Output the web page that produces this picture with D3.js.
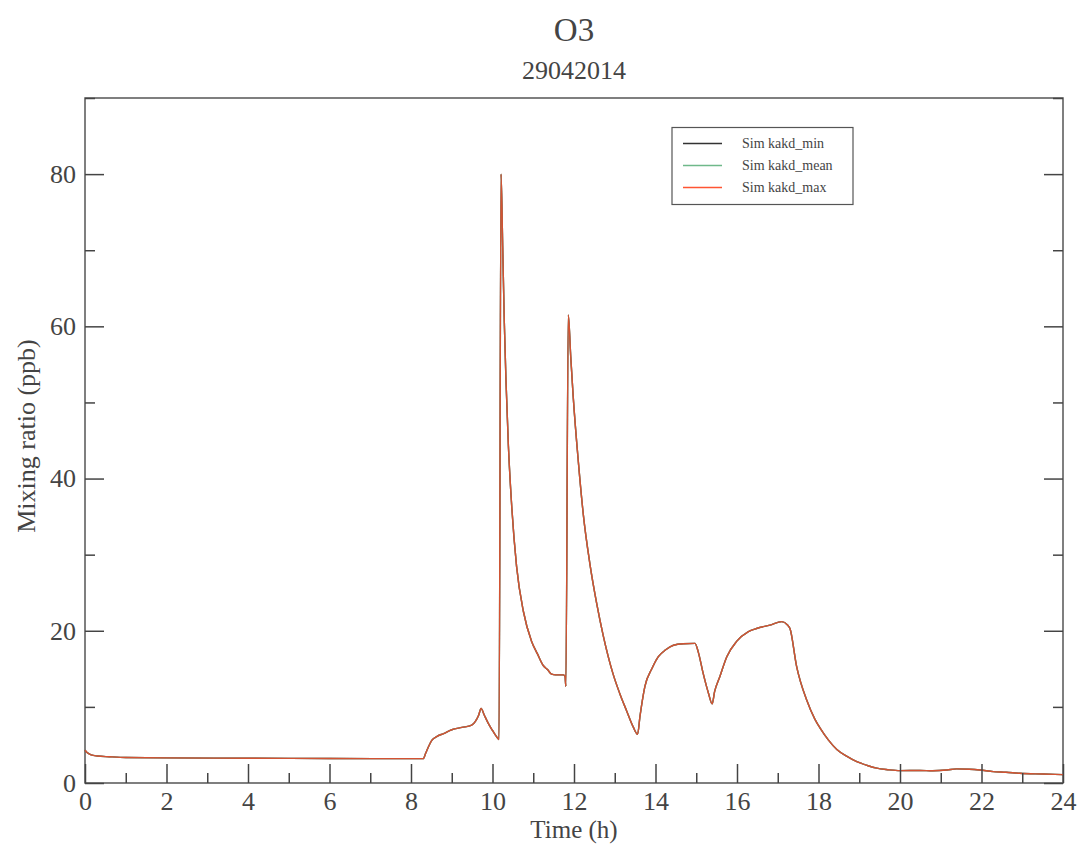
<!DOCTYPE html>
<html>
<head>
<meta charset="utf-8">
<script src="https://cdn.jsdelivr.net/npm/d3@7"></script>
<style>
body{margin:0;background:#fff;}
text{font-family:"Liberation Serif","DejaVu Serif",serif;}
</style>
</head>
<body>
<svg id="chart" width="1081" height="845"></svg>
<script>
const timeH = [0,0.05,0.15,0.3,0.6,1,2,4,6,8,8.3,8.36,8.44,8.51,8.63,8.8,9.0,9.25,9.49,9.58,9.66,9.72,9.8,9.9,10.0,10.14,10.16,10.21,10.25,10.29,10.33,10.39,10.47,10.59,10.76,10.96,11.1,11.25,11.35,11.45,11.55,11.74,11.78,11.80,11.86,11.92,11.98,12.11,12.23,12.39,12.56,12.72,12.96,13.12,13.29,13.45,13.56,13.62,13.74,13.91,14.07,14.25,14.44,14.68,14.97,15.05,15.17,15.3,15.39,15.45,15.58,15.75,15.99,16.28,16.48,16.81,17.10,17.24,17.30,17.46,17.71,17.91,18.04,18.25,18.45,18.7,18.94,19.2,19.43,19.7,20.0,20.49,20.8,21.15,21.39,21.7,21.96,22.29,22.6,22.94,23.5,24];
const simMax = [4.3,4.0,3.7,3.55,3.45,3.35,3.3,3.25,3.22,3.2,3.2,3.9,4.9,5.6,6.1,6.5,7.0,7.3,7.6,8.1,8.9,9.8,8.9,7.8,6.9,5.8,5.7,80,70.5,60.5,53,44.3,36.5,28.5,22.5,18.6,17.0,15.4,14.9,14.3,14.2,14.2,14.0,12.7,61.5,56,50.8,42,35.2,28.8,23.5,19.3,14.3,11.8,9.5,7.4,6.4,8.8,12.7,15.0,16.6,17.5,18.1,18.3,18.35,17.2,14.4,11.8,10.4,12.0,14.0,16.6,18.6,19.9,20.3,20.75,21.2,20.75,20.3,15.4,10.9,8.4,7.2,5.6,4.4,3.5,2.8,2.3,1.95,1.75,1.62,1.65,1.6,1.7,1.85,1.8,1.7,1.5,1.42,1.28,1.18,1.1];
const simMean = simMax.slice();
const simMin = simMax.slice();
const xTicks = [0,2,4,6,8,10,12,14,16,18,20,22,24];
const yTicks = [0,20,40,60,80];
const seriesNames = ["Sim kakd_min","Sim kakd_mean","Sim kakd_max"];
const seriesColors = ["#000000","#5fae7f","#ff3c1e"];

const svg = d3.select("#chart");
const L=85,R=1063,T=98,B=783;
const x = d3.scaleLinear().domain([0,24]).range([L,R]);
const y = d3.scaleLinear().domain([0,90]).range([B,T]);
const axisCol="#444";

// frame
svg.append("rect").attr("x",L).attr("y",T).attr("width",R-L).attr("height",B-T)
  .attr("fill","none").attr("stroke","#555").attr("stroke-width",1.5);

// lines
const series=[simMin,simMean,simMax];
const line = d3.line().x((d,i)=>x(timeH[i])).y(d=>y(d)).curve(d3.curveMonotoneX);
series.forEach((s,k)=>{
  svg.append("path").datum(s).attr("d",line).attr("fill","none")
    .attr("stroke",seriesColors[k]).attr("stroke-width",1.4)
    .attr("stroke-opacity",k==2?0.75:0.8).attr("stroke-linejoin","round");
});

// x axis ticks inward
const xMinor=d3.range(1,24,2);
const gx = svg.append("g").attr("transform",`translate(0,${B})`)
  .call(d3.axisBottom(x).tickValues(xTicks).tickSize(-19).tickFormat(d3.format("d")));
gx.select(".domain").remove();
gx.selectAll(".tick line").attr("stroke",axisCol).attr("stroke-width",1.5);
gx.selectAll(".tick text").attr("y",9).attr("dy","0.71em").attr("font-size",26)
  .attr("font-family","Liberation Serif, serif").attr("fill","#444");
svg.append("g").attr("transform",`translate(0,${B})`)
  .call(d3.axisBottom(x).tickValues(xMinor).tickSize(-10).tickFormat(""))
  .call(g=>{g.select(".domain").remove();g.selectAll(".tick line").attr("stroke",axisCol).attr("stroke-width",1.5);});

// y axis left
const yMinor=[10,30,50,70,90];
const gy = svg.append("g").attr("transform",`translate(${L},0)`)
  .call(d3.axisLeft(y).tickValues(yTicks).tickSize(-19).tickFormat(d3.format("d")));
gy.select(".domain").remove();
gy.selectAll(".tick line").attr("stroke",axisCol).attr("stroke-width",1.5);
gy.selectAll(".tick text").attr("x",-9).attr("font-size",26)
  .attr("font-family","Liberation Serif, serif").attr("fill","#444");
svg.append("g").attr("transform",`translate(${L},0)`)
  .call(d3.axisLeft(y).tickValues(yMinor).tickSize(-10).tickFormat(""))
  .call(g=>{g.select(".domain").remove();g.selectAll(".tick line").attr("stroke",axisCol).attr("stroke-width",1.5);});
// y axis right mirrored
svg.append("g").attr("transform",`translate(${R},0)`)
  .call(d3.axisRight(y).tickValues(yTicks).tickSize(-19).tickFormat(""))
  .call(g=>{g.select(".domain").remove();g.selectAll(".tick line").attr("stroke",axisCol).attr("stroke-width",1.5);});
svg.append("g").attr("transform",`translate(${R},0)`)
  .call(d3.axisRight(y).tickValues(yMinor).tickSize(-10).tickFormat(""))
  .call(g=>{g.select(".domain").remove();g.selectAll(".tick line").attr("stroke",axisCol).attr("stroke-width",1.5);});

// titles
svg.append("text").attr("x",574).attr("y",41).attr("text-anchor","middle")
  .attr("font-size",33).attr("fill","#444").text("O3");
svg.append("text").attr("x",574).attr("y",79).attr("text-anchor","middle")
  .attr("font-size",26).attr("fill","#444").text("29042014");
svg.append("text").attr("x",574).attr("y",838).attr("text-anchor","middle")
  .attr("font-size",25).attr("fill","#444").text("Time (h)");
svg.append("text").attr("transform","translate(35,436) rotate(-90)").attr("text-anchor","middle")
  .attr("font-size",26).attr("fill","#444").text("Mixing ratio (ppb)");

// legend
const lg = svg.append("g");
lg.append("rect").attr("x",672).attr("y",127.5).attr("width",181).attr("height",77)
  .attr("fill","#fff").attr("stroke","#555").attr("stroke-width",1.2);
const legendColors = ["#333333","#6fb98a","#ff5533"];
seriesNames.forEach((n,k)=>{
  const yy=143.5+k*22;
  lg.append("line").attr("x1",683).attr("x2",722).attr("y1",yy).attr("y2",yy)
    .attr("stroke",legendColors[k]).attr("stroke-width",1.6);
  lg.append("text").attr("x",742).attr("y",yy).attr("dy","0.35em")
    .attr("font-size",14).attr("fill","#444").text(n);
});
</script>
</body>
</html>
